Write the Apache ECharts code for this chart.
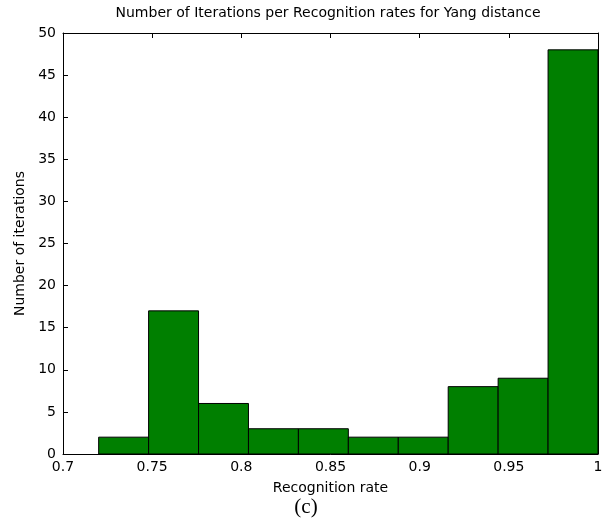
<!DOCTYPE html>
<html>
<head>
<meta charset="utf-8">
<script src="https://cdn.jsdelivr.net/npm/echarts@6/dist/echarts.min.js"></script>
<style>
  html, body { margin: 0; padding: 0; background: #fff; }
  #chart { width: 608px; height: 530px; }
</style>
</head>
<body>
<div id="chart"></div>
<script>
// Histogram bins: lower/upper edges of each bin and the count in it
const binStarts = [0.72, 0.748, 0.776, 0.804, 0.832, 0.86, 0.888, 0.916, 0.944, 0.972];
const binEnds   = [0.748, 0.776, 0.804, 0.832, 0.86, 0.888, 0.916, 0.944, 0.972, 1.0];
const counts    = [2, 17, 6, 3, 3, 2, 2, 8, 9, 48];

const xTicks = [0.7, 0.75, 0.8, 0.85, 0.9, 0.95, 1];
const yTicks = [0, 5, 10, 15, 20, 25, 30, 35, 40, 45, 50];

const titleText = 'Number of Iterations per Recognition rates for Yang distance';
const xTitle = 'Recognition rate';
const yTitle = 'Number of iterations';
const caption = '(c)';

const font = 'DejaVu Sans, Liberation Sans, sans-serif';
const fs = 14;

const binData = binStarts.map((s, i) => [s, binEnds[i], counts[i]]);

const chart = echarts.init(document.getElementById('chart'), null, { renderer: 'canvas' });

const axisCommon = {
  type: 'value',
  axisLine: { show: true, onZero: false, lineStyle: { color: '#000', width: 1 } },
  axisTick: { show: true, inside: true, length: 5, lineStyle: { color: '#000' } },
  splitLine: { show: false }
};

chart.setOption({
  animation: false,
  backgroundColor: '#fff',
  graphic: [
    {
      type: 'text', x: 328, y: 6,
      style: { text: titleText, fill: '#000', font: fs + 'px ' + font, textAlign: 'center', textVerticalAlign: 'top' }
    },
    {
      type: 'text', x: 306, y: 497,
      style: { text: caption, fill: '#000', font: '21px Liberation Serif, Times New Roman, serif', textAlign: 'center', textVerticalAlign: 'top' }
    }
  ],
  grid: { left: 63, right: 10, top: 33, bottom: 76, containLabel: false },
  xAxis: [
    Object.assign({}, axisCommon, {
      min: 0.7, max: 1, interval: 0.05, position: 'bottom',
      name: xTitle, nameLocation: 'middle', nameGap: 27,
      nameTextStyle: { fontFamily: font, fontSize: fs, color: '#000' },
      axisLabel: {
        fontFamily: font, fontSize: fs, color: '#000', margin: 6,
        formatter: v => { const t = xTicks.find(x => Math.abs(x - v) < 1e-9); return t === undefined ? '' : String(t); }
      }
    }),
    Object.assign({}, axisCommon, {
      min: 0.7, max: 1, interval: 0.05, position: 'top',
      axisLabel: { show: false }
    })
  ],
  yAxis: [
    Object.assign({}, axisCommon, {
      min: 0, max: 50, interval: 5, position: 'left',
      name: yTitle, nameLocation: 'middle', nameGap: 35,
      nameTextStyle: { fontFamily: font, fontSize: fs, color: '#000' },
      axisLabel: {
        fontFamily: font, fontSize: fs, color: '#000', margin: 7,
        formatter: v => { const t = yTicks.find(y => Math.abs(y - v) < 1e-9); return t === undefined ? '' : String(t); }
      }
    }),
    Object.assign({}, axisCommon, {
      min: 0, max: 50, interval: 5, position: 'right',
      axisLabel: { show: false }
    })
  ],
  series: [{
    type: 'custom',
    xAxisIndex: 0,
    yAxisIndex: 0,
    data: binData,
    encode: { x: [0, 1], y: 2 },
    renderItem: function (params, api) {
      const p0 = api.coord([api.value(0), api.value(2)]);
      const p1 = api.coord([api.value(1), 0]);
      return {
        type: 'rect',
        shape: { x: p0[0], y: p0[1], width: p1[0] - p0[0], height: p1[1] - p0[1] },
        style: { fill: '#007f00', stroke: '#000', lineWidth: 1 }
      };
    }
  }]
});
</script>
</body>
</html>
